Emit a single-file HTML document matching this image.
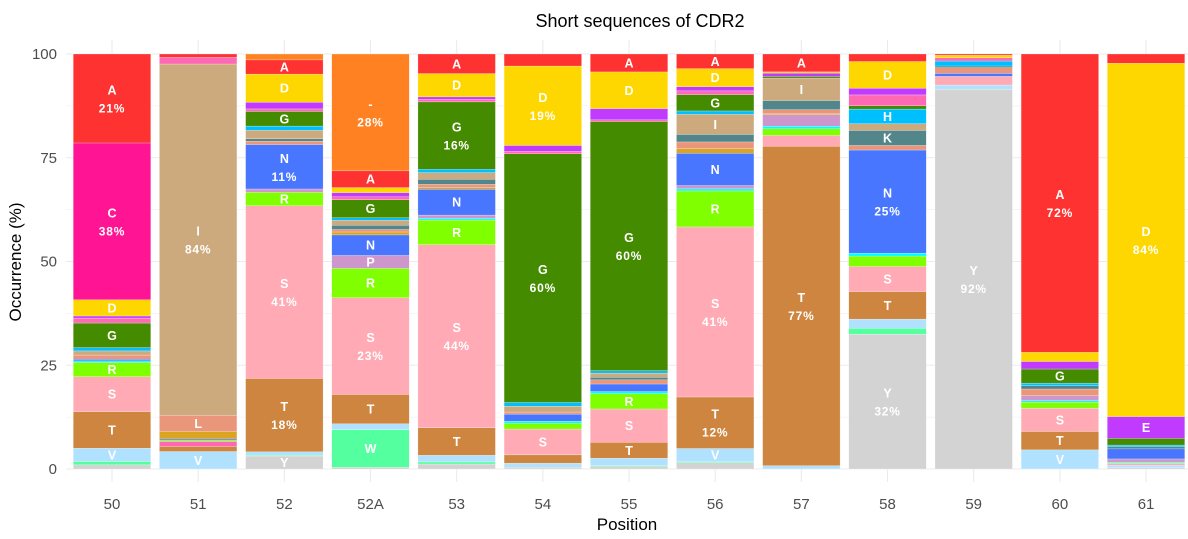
<!DOCTYPE html>
<html><head><meta charset="utf-8"><style>
body{margin:0;background:#fff;}
svg{display:block;font-family:"Liberation Sans",Arial,sans-serif;}
</style></head><body>
<svg id="chart" width="1188" height="539" viewBox="0 0 1188 539">
<text x="640" y="27" text-anchor="middle" font-size="18" fill="#000">Short sequences of CDR2</text>
<text x="627" y="530" text-anchor="middle" font-size="17" fill="#000">Position</text>
<text transform="translate(21,262) rotate(-90)" text-anchor="middle" font-size="17" fill="#000">Occurrence (%)</text>
<g id="grid"></g>
<g id="bars"></g>
<g id="labels"></g>
<g id="axes"></g>
</svg>
<script>
const categories = ["50","51","52","52A","53","54","55","56","57","58","59","60","61"];
const yTicks = [0,25,50,75,100];
const pos50 = [["Y",1],["W",0.8],["V",3.2],["T",8.8],["S",8.4],["R",3.4],["Q",0.4],["N",0.4],["L",1],["I",1],["H",0.8],["G",5.9],["F",1.2],["E",0.5],["D",3.9],["C",37.7],["A",21.4]];
const pos51 = [["V",4.2],["T",1.2],["F",1.2],["R",0.3],["N",0.3],["M",1.8],["L",3.9],["I",84.3],["F",1.6],["A",0.8]];
const pos52 = [["Y",3.1],["W",0.2],["V",0.8],["T",17.5],["S",41.2],["R",3.2],["P",0.8],["N",10.6],["L",0.8],["K",0.6],["I",2],["H",1],["G",3.5],["F",0.6],["E",1.6],["D",6.7],["A",3.4],["-",1.4]];
const pos52A = [["Y",0.4],["W",9],["V",1.4],["T",7],["S",23.1],["R",7],["P",3.1],["N",4.9],["M",0.7],["L",0.6],["K",1],["I",1.2],["H",0.6],["G",4.3],["F",0.7],["E",1],["D",1.2],["A",4],["-",27.9]];
const pos53 = [["Y",1.2],["W",0.5],["V",1.6],["T",6.6],["S",44],["R",5.9],["Q",0.4],["P",0.8],["N",6.2],["M",0.4],["L",0.8],["K",1.2],["I",1.6],["H",0.8],["G",16.2],["F",0.6],["E",0.6],["D",5.6],["A",4.7]];
const pos54 = [["Y",0.4],["V",1],["T",2],["S",6.2],["R",1.4],["Q",0.5],["N",1.7],["L",0.5],["I",1.4],["H",0.9],["G",59.8],["F",0.6],["E",1.4],["D",19.1],["A",2.9]];
const pos55 = [["Y",0.6],["W",0.2],["V",1.8],["T",3.8],["S",8],["R",3.7],["Q",0.5],["N",1.8],["L",1],["K",0.6],["I",1],["H",0.6],["G",59.8],["F",0.4],["E",2.7],["D",8.8],["A",4.3]];
const pos56 = [["Y",1.5],["W",0.2],["V",3.2],["T",12.3],["S",40.6],["R",8.6],["Q",0.5],["P",0.8],["N",7.7],["M",1.1],["L",1.6],["K",1.8],["I",4.8],["H",0.8],["G",3.9],["F",0.9],["E",1],["D",4.3],["A",3.5]];
const pos57 = [["V",0.8],["T",76.9],["S",2.6],["R",1.6],["Q",0.6],["P",2.8],["M",0.2],["L",1],["K",2.2],["I",5.4],["G",0.4],["E",0.8],["D",0.3],["A",4.3]];
const pos58 = [["Y",32.3],["W",1.4],["V",2.2],["T",6.6],["S",6],["R",2.5],["Q",0.7],["N",24.7],["L",1.1],["K",3.6],["I",1.6],["H",3.5],["G",0.8],["F",2.6],["E",1.6],["D",6.4],["A",1.8]];
const pos59 = [["Y",91.8],["V",1],["S",2.1],["N",0.7],["L",1.4],["K",0.4],["H",1.2],["F",0.8],["D",0.6],["A",0.3]];
const pos60 = [["V",4.6],["T",4.4],["S",5.6],["R",1.4],["Q",0.4],["P",1.2],["L",1.6],["K",0.8],["H",0.6],["G",3.4],["E",1.8],["D",2.2],["A",71.6]];
const pos61 = [["Y",0.3],["V",0.6],["S",0.4],["W",0.3],["P",0.8],["N",2.4],["K",0.5],["H",0.4],["G",1.6],["E",5.2],["D",84.2],["A",2.2]];
const series = [pos50,pos51,pos52,pos52A,pos53,pos54,pos55,pos56,pos57,pos58,pos59,pos60,pos61];

const colors = {"-":"#FF8122","A":"#FF3232","C":"#FF1493","D":"#FFD700","E":"#C13BFF","F":"#FF69B4","G":"#458B00","H":"#00BFFF","I":"#CDAA7D","K":"#53868B","L":"#E9967A","M":"#DAA520","N":"#4876FF","P":"#CD96CD","Q":"#00FFFF","R":"#7FFF00","S":"#FFAAB5","T":"#CD853F","V":"#B0E2FF","W":"#54FF9F","Y":"#D3D3D3"};
const NS="http://www.w3.org/2000/svg";
const x0=112, step=86.17, bw=77.5, yBottom=469, yTop=54;
function xScale(i){return x0+i*step;}
function yScale(v){return yBottom-(yBottom-yTop)*v/100;}
function mk(tag,attrs,parent){const e=document.createElementNS(NS,tag);for(const k in attrs)e.setAttribute(k,attrs[k]);parent.appendChild(e);return e;}
const grid=document.getElementById('grid'),bars=document.getElementById('bars'),labels=document.getElementById('labels'),axes=document.getElementById('axes');
for(let v=0;v<=100;v+=12.5){
  const l=mk('line',{x1:66,x2:1188,y1:yScale(v),y2:yScale(v),stroke:'#ebebeb','stroke-width':(v%25===0)?1.1:0.6},grid);
  
  
}
categories.forEach((c,i)=>{
  const l=mk('line',{x1:xScale(i),x2:xScale(i),y1:40,y2:482,stroke:'#ebebeb','stroke-width':1.1},grid);
  
  
  const t=mk('text',{x:xScale(i),y:509,'text-anchor':'middle','font-size':15,fill:'#4d4d4d'},axes);
  t.textContent=c;
  
  
});
yTicks.forEach(v=>{
  const t=mk('text',{x:57,y:yScale(v)+5,'text-anchor':'end','font-size':15,fill:'#4d4d4d'},axes);
  t.textContent=v;
  
  
});
series.forEach((segs,i)=>{
  const total=segs.reduce((s,d)=>s+d[1],0);
  let cum=0;
  const cx=xScale(i);
  segs.forEach(([aa,raw])=>{
    const v=raw*100/total;
    const y1=yScale(cum+v),y0=yScale(cum);
    const r=mk('rect',{x:cx-bw/2,y:y1,width:bw,height:Math.max(0,y0-y1),fill:colors[aa],stroke:'#ffffff','stroke-width':0.4,'stroke-opacity':0.6},bars);
    
    
    const cy=(y0+y1)/2;
    if(raw>=3){
      if(raw>=10){
        const t1=mk('text',{x:cx,y:cy-9+5,'text-anchor':'middle','font-size':12.5,'font-weight':'bold',fill:'#fff'},labels);
        t1.textContent=aa;
        
        
        const t2=mk('text',{x:cx,y:cy+9+5,'text-anchor':'middle','font-size':12,'font-weight':'bold',fill:'#fff','letter-spacing':'0.8'},labels);
        t2.textContent=Math.round(raw)+'%';
        
        
      } else {
        const t1=mk('text',{x:cx,y:cy+4.5,'text-anchor':'middle','font-size':12.5,'font-weight':'bold',fill:'#fff'},labels);
        t1.textContent=aa;
        
        
      }
    }
    cum+=v;
  });
});
</script>
</body></html>
